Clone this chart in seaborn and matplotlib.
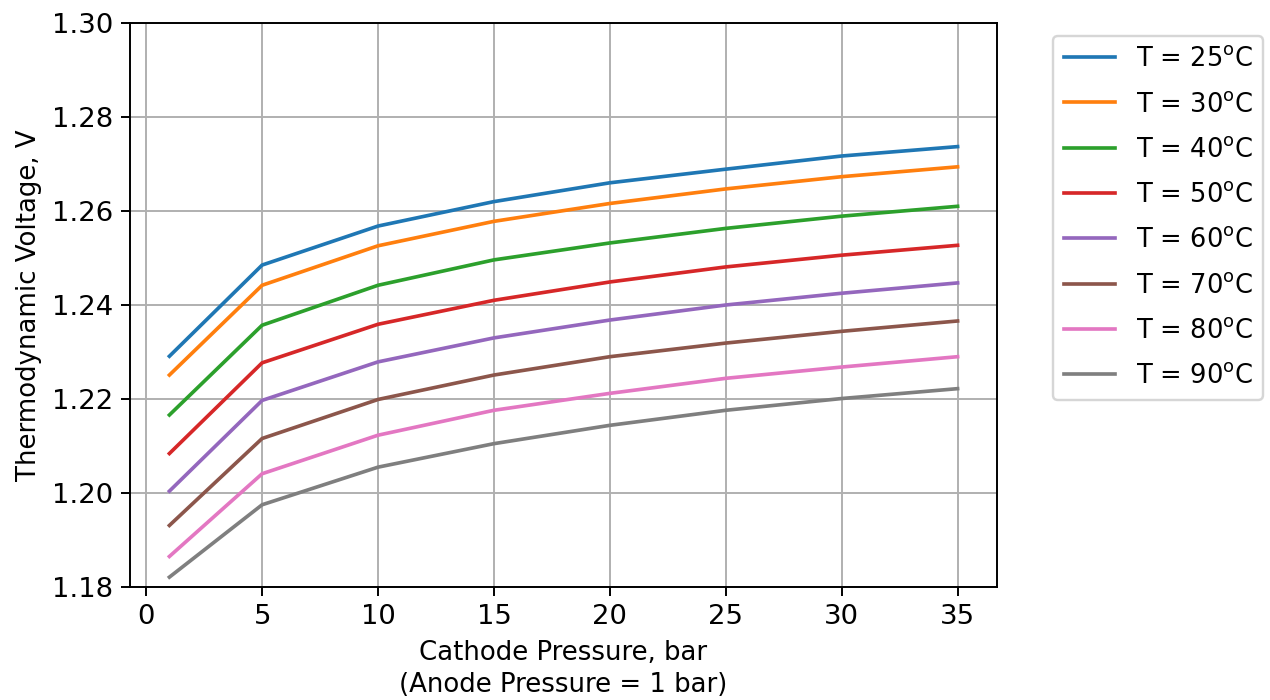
import matplotlib
matplotlib.use("Agg")
import matplotlib.pyplot as plt
import pandas as pd
import seaborn as sns

# Cathode pressures (bar), anode held at 1 bar
pressures = [1, 5, 10, 15, 20, 25, 30, 35]

# Operating temperatures (deg C)
temperatures = [25, 30, 40, 50, 60, 70, 80, 90]

# Thermodynamic voltage (V) per temperature
v_25 = [1.2291, 1.2485, 1.2568, 1.2620, 1.2660, 1.2689, 1.2717, 1.2737]
v_30 = [1.2251, 1.2442, 1.2526, 1.2578, 1.2616, 1.2647, 1.2673, 1.2694]
v_40 = [1.2166, 1.2357, 1.2442, 1.2496, 1.2532, 1.2563, 1.2589, 1.2610]
v_50 = [1.2084, 1.2277, 1.2359, 1.2410, 1.2449, 1.2481, 1.2506, 1.2527]
v_60 = [1.2004, 1.2197, 1.2279, 1.2330, 1.2368, 1.2400, 1.2425, 1.2447]
v_70 = [1.1931, 1.2116, 1.2199, 1.2251, 1.2290, 1.2319, 1.2344, 1.2366]
v_80 = [1.1865, 1.2041, 1.2123, 1.2176, 1.2212, 1.2244, 1.2268, 1.2290]
v_90 = [1.1821, 1.1975, 1.2055, 1.2105, 1.2144, 1.2176, 1.2201, 1.2222]

voltages = [v_25, v_30, v_40, v_50, v_60, v_70, v_80, v_90]

labels = [r"T = %d$^\mathrm{o}$C" % t for t in temperatures]

rows = []
for lab, series in zip(labels, voltages):
    for p, v in zip(pressures, series):
        rows.append({"pressure": p, "voltage": v, "temp": lab})
df = pd.DataFrame(rows)

plt.rcParams["xtick.labelsize"] = 11.3
plt.rcParams["ytick.labelsize"] = 11.3
plt.rcParams["axes.labelsize"] = 10.7

dpi = 175
fig = plt.figure(figsize=(1270 / dpi, 700 / dpi), dpi=dpi)
ax = fig.add_axes([130 / 1270, 1 - 587 / 700, 867 / 1270, 564 / 700])

sns.lineplot(data=df, x="pressure", y="voltage", hue="temp",
             hue_order=labels, palette="tab10", linewidth=1.5, ax=ax)

ax.set_ylim(1.18, 1.30)
ax.set_yticks([1.18, 1.20, 1.22, 1.24, 1.26, 1.28, 1.30])
ax.set_xlabel("Cathode Pressure, bar\n(Anode Pressure = 1 bar)", linespacing=1.3)
ax.set_ylabel("Thermodynamic Voltage, V")
ax.grid(True)

handles, labs = ax.get_legend_handles_labels()
ax.legend(handles, labs, bbox_to_anchor=(1.05, 1), loc="upper left",
          fontsize=10.6, labelspacing=0.75, borderaxespad=0.5)

fig.savefig("out.png", dpi=dpi)
